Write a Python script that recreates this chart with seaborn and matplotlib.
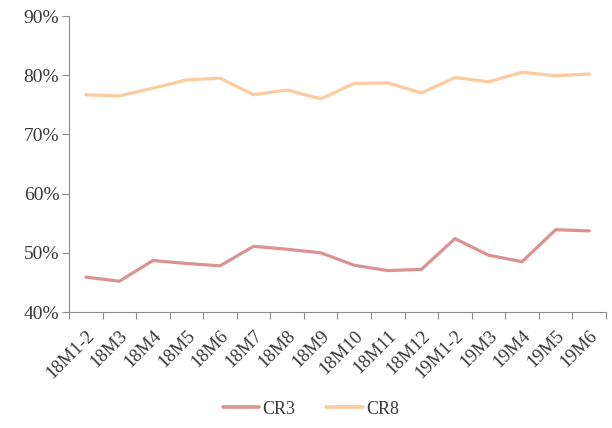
import numpy as np
import pandas as pd
import matplotlib
matplotlib.use("Agg")
import matplotlib.pyplot as plt
import seaborn as sns
from matplotlib.ticker import FixedLocator, FuncFormatter

categories = ["18M1-2", "18M3", "18M4", "18M5", "18M6", "18M7", "18M8", "18M9",
              "18M10", "18M11", "18M12", "19M1-2", "19M3", "19M4", "19M5", "19M6"]
cr3 = [45.9, 45.2, 48.7, 48.2, 47.8, 51.1, 50.6, 50.0,
       47.9, 47.0, 47.2, 52.4, 49.6, 48.5, 53.9, 53.7]
cr8 = [76.7, 76.5, 77.8, 79.2, 79.5, 76.7, 77.5, 76.0,
       78.6, 78.7, 77.0, 79.6, 78.9, 80.5, 79.9, 80.2]
series_names = ["CR3", "CR8"]
colors = ["#D99391", "#FCCB9E"]

sns.set_style("white")
plt.rcParams['font.family'] = ['Liberation Serif', 'DejaVu Serif']

df = pd.DataFrame({
    "cat": categories * 2,
    "x": list(range(len(categories))) * 2,
    "value": cr3 + cr8,
    "series": [series_names[0]] * len(categories) + [series_names[1]] * len(categories),
})

fig = plt.figure(figsize=(6.12, 4.28), dpi=100)
ax = fig.add_axes([0.1127, 0.271, 0.8775, 0.6916])
sns.lineplot(data=df, x="x", y="value", hue="series", palette=colors,
             linewidth=2.3, ax=ax, legend=True)

text_color = "#3a3a3a"
ax.set_xlim(-0.5, len(categories) - 0.5)
ax.set_ylim(40, 90)
ax.set_yticks(np.arange(40, 91, 10))
ax.yaxis.set_major_formatter(FuncFormatter(lambda v, p: f"{int(v)}%"))
ax.set_xticks(range(len(categories)))
ax.set_xticklabels(categories, rotation=45, ha="right", rotation_mode="anchor")
ax.xaxis.set_minor_locator(FixedLocator(np.arange(-0.5, len(categories), 1.0)))
ax.tick_params(axis="x", which="major", length=0, pad=11, labelsize=13.5, labelcolor=text_color)
ax.tick_params(axis="x", which="minor", length=5, width=0.8, color="#8c8c8c", direction="out", bottom=True)
ax.tick_params(axis="y", which="major", length=5, width=0.8, color="#8c8c8c", direction="out",
               left=True, labelsize=14, labelcolor=text_color, pad=2)
ax.set_xlabel("")
ax.set_ylabel("")
for s in ["top", "right"]:
    ax.spines[s].set_visible(False)
for s in ["left", "bottom"]:
    ax.spines[s].set_color("#8c8c8c")
    ax.spines[s].set_linewidth(0.8)

leg = ax.legend(loc="center", ncol=2, frameon=False, fontsize=13, handlelength=2.0,
                columnspacing=1.7, handletextpad=0.2)
leg.set_bbox_to_anchor((311 / 612, 1 - 409 / 428), transform=fig.transFigure)
for t in leg.get_texts():
    t.set_color(text_color)
for h in leg.get_lines():
    h.set_linewidth(2.6)

fig.savefig("out.png", dpi=100)
